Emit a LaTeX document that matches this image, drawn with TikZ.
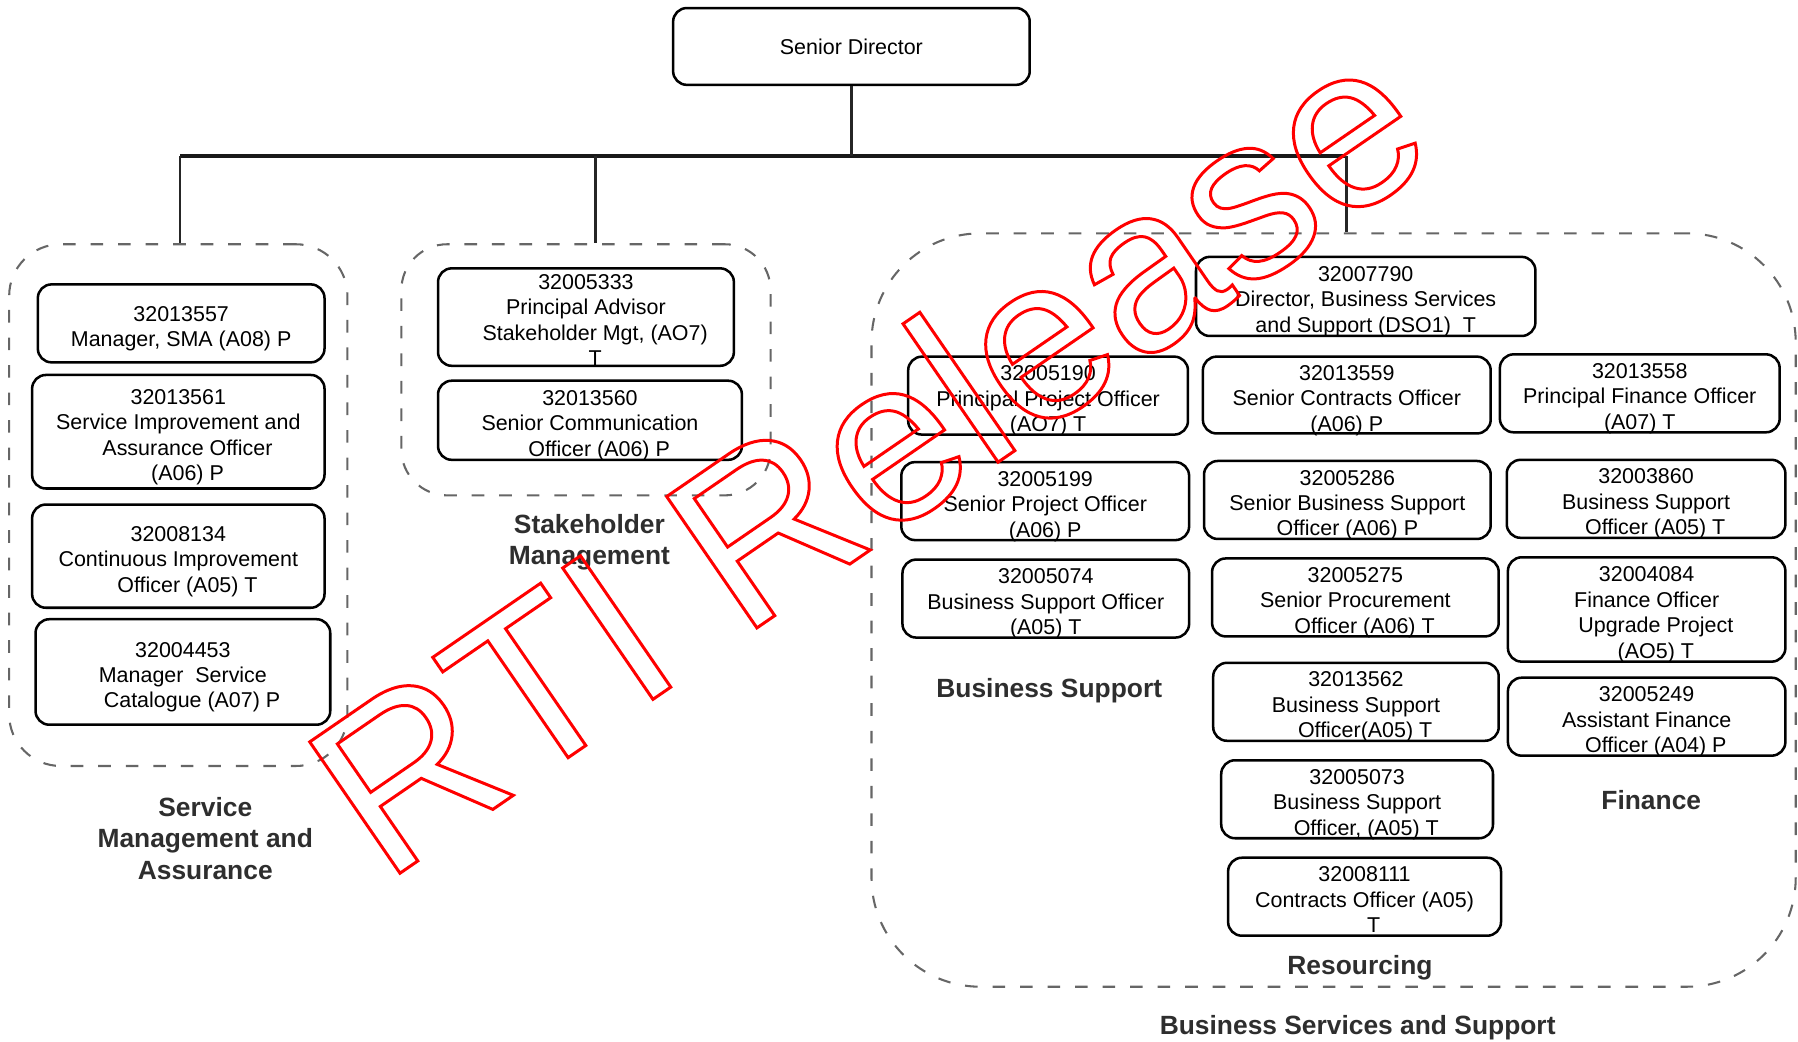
\documentclass[tikz,border=0pt]{standalone}
\usepackage{fontspec}
\setmainfont{Liberation Sans}
\usetikzlibrary{calc}
% type sizes used in the chart
\newcommand\boxfont{\fontsize{18.7}{22.2}\selectfont}
\newcommand\labfont{\bfseries\fontsize{23}{27.5}\selectfont}
\newcommand\wmfont{\fontsize{202}{220}\selectfont}
% indent for a shifted line inside a centred box
\newcommand\lineshift{\hspace*{16pt}}
% hollow (stroked only) red lettering
\newcommand\hollow[1]{\special{pdf:literal direct 1 0 0 RG 2.6 w 0 j 1 Tr}#1\special{pdf:literal direct 0 Tr 0 0 0 RG}}
\begin{document}
\begin{tikzpicture}[x=1pt,y=-1pt,
  post/.style={draw=black, line width=2.2pt, rounded corners=12pt, inner sep=0pt,
               align=center, font=\boxfont},
  % fixed text extents so that every block of lines sits alike in its box
  two/.style={text height=40.6pt, text depth=0pt},
  three/.style={text height=62.8pt, text depth=0pt},
  four/.style={text height=85pt, text depth=0pt},
  group/.style={draw=black!60, line width=1.8pt, dash pattern=on 11pt off 13pt,
                rounded corners=#1, inner sep=0pt},
  grouplabel/.style={align=center, font=\labfont, text=black!82, inner sep=0pt},
  bus/.style={line width=3.4pt, draw=black!90},
  stem/.style={line width=2.4pt, draw=black!85},
  stampstyle/.style={inner sep=0pt, font=\wmfont, text=red}
]
\useasboundingbox (0,0) rectangle (1568,908);

% ---------- group outlines ----------
\node[group=45pt, minimum width=295pt, minimum height=455pt] (sma) at (155.5,440.5) {};
\node[group=40pt, minimum width=322pt, minimum height=219pt] (sh) at (511,322.5) {};
\node[group=95pt, minimum width=806pt, minimum height=657pt] (bss) at (1163,532) {};

% ---------- head of the chart ----------
\node[post, minimum width=311pt, minimum height=67pt] (sd) at (742.5,40.5) {Senior Director};

% ---------- Service Management and Assurance ----------
\node[post, two, minimum width=250pt, minimum height=68pt] (p13557) at (158,282)
  {32013557\\Manager, SMA (A08) P};
\node[post, four, minimum width=255pt, minimum height=99pt] (p13561) at (155.5,376.5)
  {32013561\\Service Improvement and\\\lineshift Assurance Officer\\\lineshift(A06) P};
\node[post, three, minimum width=255pt, minimum height=90pt] (p08134) at (155.5,485)
  {32008134\\Continuous Improvement\\\lineshift Officer (A05) T};
\node[post, three, minimum width=257pt, minimum height=92pt] (p04453) at (159.5,586)
  {32004453\\Manager\ \ Service\\\lineshift Catalogue (A07) P};

% ---------- Stakeholder Management ----------
\node[post, four, minimum width=258pt, minimum height=85pt] (p05333) at (511,276.5)
  {32005333\\Principal Advisor\\\lineshift Stakeholder Mgt, (AO7)\\\lineshift T};
\node[post, three, minimum width=265pt, minimum height=69pt] (p13560) at (514.5,366.5)
  {32013560\\Senior Communication\\\lineshift Officer (A06) P};

% ---------- Business Services and Support ----------
\node[post, three, minimum width=296pt, minimum height=69pt] (p07790) at (1191,258.5)
  {32007790\\Director, Business Services\\and Support (DSO1)\ \ T};
\node[post, three, minimum width=244pt, minimum height=68pt] (p05190) at (914,345)
  {32005190\\Principal Project Officer\\(AO7) T};
\node[post, three, minimum width=251pt, minimum height=67pt] (p13559) at (1174.5,344.5)
  {32013559\\Senior Contracts Officer\\(A06) P};
\node[post, three, minimum width=244pt, minimum height=68pt] (p13558) at (1430,343)
  {32013558\\Principal Finance Officer\\(A07) T};
\node[post, three, minimum width=251pt, minimum height=68pt] (p05199) at (911.5,437)
  {32005199\\Senior Project Officer\\(A06) P};
\node[post, three, minimum width=250pt, minimum height=68pt] (p05286) at (1175,436)
  {32005286\\Senior Business Support\\Officer (A06) P};
\node[post, three, minimum width=243pt, minimum height=68pt] (p03860) at (1435.5,435)
  {32003860\\Business Support\\\lineshift Officer (A05) T};
\node[post, three, minimum width=250pt, minimum height=68pt] (p05074) at (912,522)
  {32005074\\Business Support Officer\\(A05) T};
\node[post, three, minimum width=250pt, minimum height=68pt] (p05275) at (1182,521)
  {32005275\\Senior Procurement\\\lineshift Officer (A06) T};
\node[post, four, minimum width=242pt, minimum height=91pt] (p04084) at (1436,531.5)
  {32004084\\Finance Officer\\\lineshift Upgrade Project\\\lineshift(AO5) T};
\node[post, three, minimum width=249pt, minimum height=68pt] (p13562) at (1182.5,612)
  {32013562\\Business Support\\\lineshift Officer(A05) T};
\node[post, three, minimum width=242pt, minimum height=68pt] (p05249) at (1436,625)
  {32005249\\Assistant Finance\\\lineshift Officer (A04) P};
\node[post, three, minimum width=237pt, minimum height=68pt] (p05073) at (1183.5,697)
  {32005073\\Business Support\\\lineshift Officer, (A05) T};
\node[post, three, minimum width=238pt, minimum height=68pt] (p08111) at (1190,782)
  {32008111\\Contracts Officer (A05)\\\lineshift T};

% ---------- group titles ----------
\node[grouplabel] (lsma) at (179,731) {Service\\Management and\\Assurance};
\node[grouplabel] (lsh) at (514,473) {Stakeholder\\Management};
\node[grouplabel] (lbs) at (915,602) {Business Support};
\node[grouplabel] (lfin) at (1440,698) {Finance};
\node[grouplabel] (lres) at (1186,844) {Resourcing};
\node[grouplabel] (lbss) at (1184,896) {Business Services and Support};

% ---------- reporting lines ----------
\coordinate (busL) at (157,136);
\coordinate (busM) at (519,136);
\coordinate (busR) at (1174,136);
\draw[bus] (busL) -- (busR);
\draw[stem] (sd.south) -- (sd.south |- busL);
\draw[stem] (busL) -- (busL |- sma.north);
\draw[stem] (busM) -- (busM |- sh.north);
\draw[stem] (busR) -- (busR |- bss.north);

% ---------- release stamp ----------
\node[stampstyle, rotate=34.5, anchor=base west] (stamp) at (335,771) {\hollow{RTI Release}};
\end{tikzpicture}
\end{document}
